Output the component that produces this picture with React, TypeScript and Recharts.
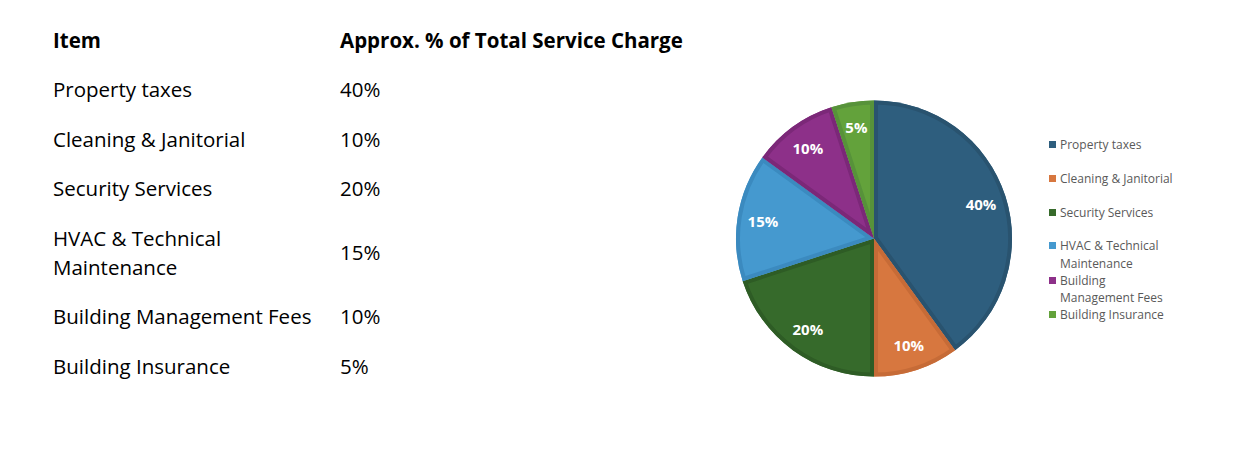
import React from 'react';
import { PieChart, Pie, Cell, Legend, Sector } from 'recharts';

const items = [
  'Property taxes',
  'Cleaning & Janitorial',
  'Security Services',
  'HVAC & Technical Maintenance',
  'Building Management Fees',
  'Building Insurance',
];
const shares = [40, 10, 20, 15, 10, 5];
const tableLabels = [
  'Property taxes',
  'Cleaning & Janitorial',
  'Security Services',
  'HVAC & Technical\nMaintenance',
  'Building Management Fees',
  'Building Insurance',
];
const legendLabels = [
  'Property taxes',
  'Cleaning & Janitorial',
  'Security Services',
  'HVAC & Technical\nMaintenance',
  'Building\nManagement Fees',
  'Building Insurance',
];

const fills = ['#2e5e7e', '#d7773f', '#366a2b', '#4599cf', '#8d3089', '#63a23b'];
const edges = ['#29536f', '#c66b37', '#2e5c25', '#3b8abf', '#7b2878', '#57923a'];

const data = items.map((name, i) => ({ name, value: shares[i] }));

const RAD = Math.PI / 180;

// inset border (clipped to the slice) + the white percent label
function renderLabel(props: any) {
  const { cx, cy, midAngle, outerRadius, startAngle, endAngle, index } = props;
  const r = outerRadius * 0.815;
  const x = cx + r * Math.cos(-midAngle * RAD);
  const y = cy + r * Math.sin(-midAngle * RAD);
  const id = `slice-clip-${index}`;
  return (
    <g>
      <defs>
        <clipPath id={id}>
          <Sector cx={cx} cy={cy} innerRadius={0} outerRadius={outerRadius} startAngle={startAngle} endAngle={endAngle} />
        </clipPath>
      </defs>
      <Sector
        cx={cx}
        cy={cy}
        innerRadius={0}
        outerRadius={outerRadius}
        startAngle={startAngle}
        endAngle={endAngle}
        fill="none"
        stroke={edges[index]}
        strokeWidth={8}
        clipPath={`url(#${id})`}
      />
      <text x={x} y={y} fill="#fff" fontSize={15} fontWeight={700} textAnchor="middle" dominantBaseline="central">
        {`${shares[index]}%`}
      </text>
    </g>
  );
}

function LegendBox() {
  return (
    <div style={{ fontFamily: '"Open Sans", sans-serif', fontSize: 12, color: '#595959', textAlign: 'left' }}>
      {legendLabels.map((label, i) => {
        const lines = label.split('\n').length;
        return (
          <div key={i} style={{ display: 'flex', alignItems: 'flex-start', lineHeight: '17.25px', marginBottom: lines === 1 ? 16.5 : 0 }}>
            <span style={{ width: 7, height: 7, background: fills[i], marginTop: 5, marginRight: 4, flexShrink: 0 }} />
            <span style={{ whiteSpace: 'pre-line' }}>{label}</span>
          </div>
        );
      })}
    </div>
  );
}

export default function App() {
  const cell = { padding: '10.25px 0', lineHeight: '29px', verticalAlign: 'middle' as const };
  return (
    <div style={{ position: 'fixed', left: 0, top: 0, width: 1237, height: 454, background: '#fff', fontFamily: '"Open Sans", sans-serif', color: '#000' }}>
      <table style={{ position: 'absolute', left: 53, top: 15.5, borderCollapse: 'collapse', fontSize: 20.5 }}>
        <tbody>
          <tr>
            <td style={{ ...cell, width: 287, fontWeight: 700 }}>Item</td>
            <td style={{ ...cell, fontWeight: 700, whiteSpace: 'nowrap' }}>Approx. % of Total Service Charge</td>
          </tr>
          {tableLabels.map((label, i) => (
            <tr key={i}>
              <td style={{ ...cell, whiteSpace: 'pre' }}>{label}</td>
              <td style={cell}>{`${shares[i]}%`}</td>
            </tr>
          ))}
        </tbody>
      </table>
      <div style={{ position: 'absolute', left: 700, top: 0 }}>
        <PieChart width={537} height={454} margin={{ top: 0, right: 0, bottom: 0, left: 0 }}>
          <Pie
            data={data}
            dataKey="value"
            nameKey="name"
            cx={174}
            cy={238.5}
            outerRadius={138}
            startAngle={90}
            endAngle={-270}
            stroke="none"
            labelLine={false}
            label={renderLabel}
            isAnimationActive={false}
          >
            {data.map((d, i) => (
              <Cell key={d.name} fill={fills[i]} />
            ))}
          </Pie>
          <Legend
            layout="vertical"
            align="right"
            verticalAlign="top"
            content={<LegendBox />}
            wrapperStyle={{ left: 349, right: 'auto', top: 136, width: 150 }}
          />
        </PieChart>
      </div>
    </div>
  );
}
